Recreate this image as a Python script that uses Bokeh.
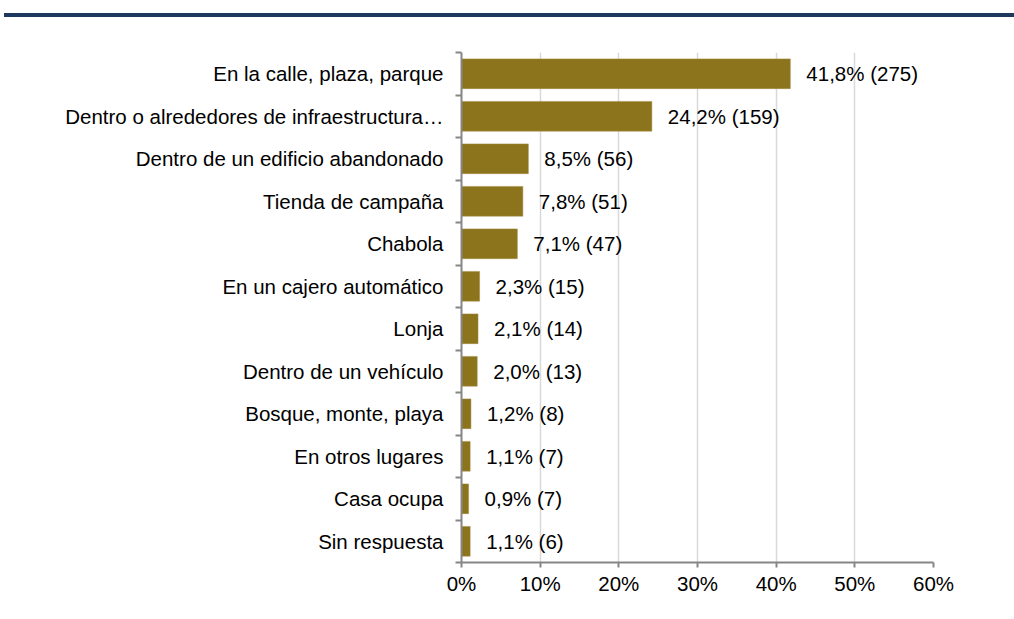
from bokeh.plotting import figure
from bokeh.models import ColumnDataSource, FixedTicker, Div
from bokeh.layouts import column
from bokeh.core.properties import value
from bokeh.embed import file_html
from bokeh.resources import INLINE

categories = [
    "En la calle, plaza, parque",
    "Dentro o alrededores de infraestructura…",
    "Dentro de un edificio abandonado",
    "Tienda de campaña",
    "Chabola",
    "En un cajero automático",
    "Lonja",
    "Dentro de un vehículo",
    "Bosque, monte, playa",
    "En otros lugares",
    "Casa ocupa",
    "Sin respuesta",
]
percents = [41.8, 24.2, 8.5, 7.8, 7.1, 2.3, 2.1, 2.0, 1.2, 1.1, 0.9, 1.1]
counts = [275, 159, 56, 51, 47, 15, 14, 13, 8, 7, 7, 6]
x_ticks = [0, 10, 20, 30, 40, 50, 60]

FONT = "Liberation Sans"
FS = "20.5px"
n = len(categories)
ypos = [n - 0.5 - i for i in range(n)]
labels = [("%.1f" % v).replace(".", ",") + "% (" + str(c) + ")" for v, c in zip(percents, counts)]

src = ColumnDataSource(dict(y=ypos, v=percents, lab=labels))

rule = Div(text="", width=1010, height=4, margin=(13, 0, 0, 4),
           styles={"background-color": "#1D3A5E"})

p = figure(width=1006, height=586, toolbar_location=None, output_backend="svg",
           x_range=(0, 60), y_range=(0, n),
           min_border_left=461, min_border_right=73, min_border_top=35, min_border_bottom=41,
           outline_line_color=None, margin=(0, 0, 0, 0))

p.hbar(y="y", right="v", left=0, height=0.7, source=src,
       fill_color="#8C741C", line_color="#A08A40", line_width=0.5)
p.text(x="v", y="y", text="lab", source=src, x_offset=16, text_baseline="middle",
       text_align="left", text_font=value(FONT), text_font_size=FS, text_color="#000000")

# x axis
p.xaxis.ticker = FixedTicker(ticks=x_ticks)
p.xaxis.major_label_overrides = {t: "%d%%" % t for t in x_ticks}
p.xaxis.major_label_text_font = FONT
p.xaxis.major_label_text_font_size = FS
p.xaxis.major_label_text_color = "#000000"
p.xaxis.major_tick_out = 5
p.xaxis.major_tick_in = 0
p.xaxis.minor_tick_out = 0
p.xaxis.minor_tick_in = 0
p.xaxis.axis_line_color = "#868686"
p.xaxis.axis_line_width = 2
p.xaxis.major_tick_line_color = "#868686"
p.xaxis.major_tick_line_width = 2
p.xaxis.major_label_standoff = 4

# y axis
p.yaxis.ticker = FixedTicker(ticks=ypos, minor_ticks=list(range(n + 1)))
p.yaxis.major_label_overrides = {y: c for y, c in zip(ypos, categories)}
p.yaxis.major_label_text_font = FONT
p.yaxis.major_label_text_font_size = FS
p.yaxis.major_label_text_color = "#000000"
p.yaxis.major_tick_out = 0
p.yaxis.major_tick_in = 0
p.yaxis.minor_tick_out = 6
p.yaxis.minor_tick_in = 0
p.yaxis.minor_tick_line_color = "#868686"
p.yaxis.minor_tick_line_width = 2
p.yaxis.axis_line_color = "#868686"
p.yaxis.axis_line_width = 2
p.yaxis.major_label_standoff = 12

p.xgrid.ticker = FixedTicker(ticks=x_ticks)
p.xgrid.grid_line_color = "#D9D9D9"
p.xgrid.grid_line_width = 1.5
p.ygrid.grid_line_color = None

layout = column(rule, p, spacing=0)
open("out.html", "w").write(file_html(layout, INLINE))
